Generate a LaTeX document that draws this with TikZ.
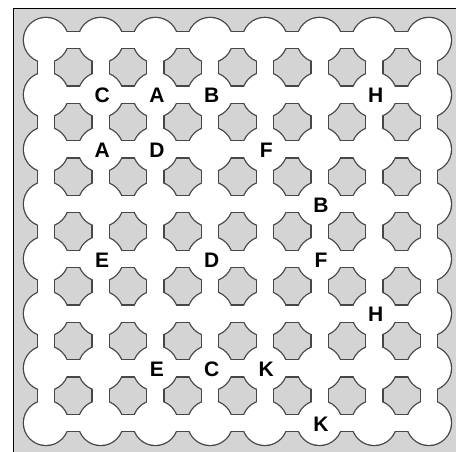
\documentclass[tikz,border=0pt]{standalone}
\usepackage{fontspec}
\setmainfont{Liberation Sans}
\tikzset{
	rim/.style={draw=black!72, line width=2.6pt},
	plate/.style={fill=white},
	letter/.style={inner sep=0pt, font=\fontsize{21}{25}\selectfont\bfseries}
}
\begin{document}
\begin{tikzpicture}[x=1pt, y=-1pt]
		\def\gap{54.7}
		\def\rad{22pt}
		\def\bw{8}
		\useasboundingbox (0,0) rectangle (456,452);
		\fill[black!17] (13.3,8) rectangle (470,470);
		\draw[black, line width=0.9pt] (13.3,470) -- (13.3,8) -- (470,8);
		% outer edge of the white plate: wide strokes first, then the fill on top
		\foreach \k in {rim, plate}{
			\foreach \i in {0,...,7}{
				\foreach \j in {0,...,7}{
					\path[\k] ({46+\i*\gap},{40+\j*\gap}) circle[radius=\rad];
				}
			}
			\foreach \i in {0,...,6}{
				\foreach \j in {0,...,7}{
					\path[\k] ({46+\i*\gap},{40+\j*\gap-\bw}) rectangle ({46+(\i+1)*\gap},{40+\j*\gap+\bw});
					\path[\k] ({46+\j*\gap-\bw},{40+\i*\gap}) rectangle ({46+\j*\gap+\bw},{40+(\i+1)*\gap});
				}
			}
		}
		\foreach \c/\r/\t [count=\n] in {1/1/C, 2/1/A, 3/1/B, 6/1/H, 1/2/A, 2/2/D, 4/2/F, 5/3/B,
				1/4/E, 3/4/D, 5/4/F, 6/5/H, 2/6/E, 3/6/C, 4/6/K, 5/7/K}{
			\node[letter] (p\n) at ({47.5+\c*\gap},{41+\r*\gap}) {\t};
		}
	\end{tikzpicture}
\end{document}
